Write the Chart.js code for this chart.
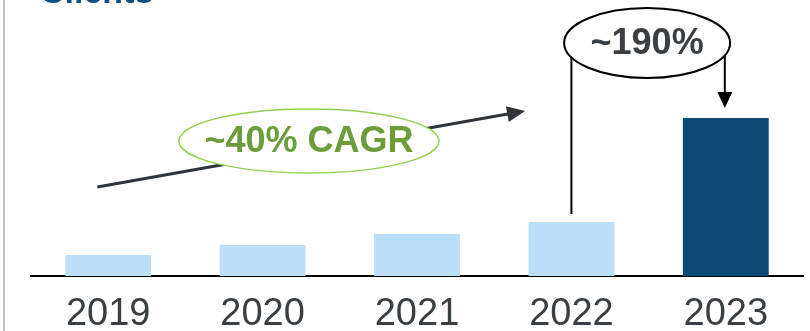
<!DOCTYPE html>
<html>
<head>
<meta charset="utf-8">
<script src="https://cdn.jsdelivr.net/npm/chart.js@4.4.1/dist/chart.umd.min.js"></script>
<style>
  html, body { margin: 0; padding: 0; background: #fff; }
  #wrap { width: 810px; height: 331px; }
</style>
</head>
<body>
<div id="wrap"><canvas id="clientsChart" width="810" height="331"></canvas></div>
<script>
const years = ["2019", "2020", "2021", "2022", "2023"];
const clients = [21, 31, 42, 54, 158];
const barColors = ["#bbdff8", "#bbdff8", "#bbdff8", "#bbdff8", "#0c4a76"];
const titleText = "Clients";
const cagrLabel = "~40% CAGR";
const jumpLabel = "~190%";

const font = "'Liberation Sans', Arial, sans-serif";

function arrowHead(ctx, x1, y1, x2, y2, len, half) {
    const a = Math.atan2(y2 - y1, x2 - x1);
    ctx.beginPath();
    ctx.moveTo(x2, y2);
    ctx.lineTo(x2 - len * Math.cos(a) + half * Math.sin(a), y2 - len * Math.sin(a) - half * Math.cos(a));
    ctx.lineTo(x2 - len * Math.cos(a) - half * Math.sin(a), y2 - len * Math.sin(a) + half * Math.cos(a));
    ctx.closePath();
    ctx.fill();
}

// trend arrow, growth bracket, title and the frame line on the left
const annotations = {
    id: 'annotations',
    afterDraw(chart) {
        const ctx = chart.ctx;
        const x = chart.scales.x;
        const y = chart.scales.y;
        ctx.save();

        ctx.fillStyle = "#c3c3c3";
        ctx.fillRect(3, 0, 2, chart.height);

        ctx.fillStyle = "#0d4f85";
        ctx.font = "bold 34px " + font;
        ctx.textAlign = "left";
        ctx.textBaseline = "alphabetic";
        ctx.fillText(titleText, 40, 3);

        // CAGR trend arrow
        const sx = x.getPixelForValue(-0.07), sy = y.getPixelForValue(89);
        const ex = x.getPixelForValue(2.7), ey = y.getPixelForValue(165);
        ctx.strokeStyle = "#2f353b";
        ctx.fillStyle = "#2f353b";
        ctx.lineWidth = 3;
        ctx.beginPath();
        ctx.moveTo(sx, sy);
        const a = Math.atan2(ey - sy, ex - sx);
        ctx.lineTo(ex - 12 * Math.cos(a), ey - 12 * Math.sin(a));
        ctx.stroke();
        arrowHead(ctx, sx, sy, ex, ey, 18, 8);

        const cx = x.getPixelForValue(1.3), cy = y.getPixelForValue(135);
        ctx.beginPath();
        ctx.ellipse(cx, cy, 130, 32, 0, 0, Math.PI * 2);
        ctx.fillStyle = "#fff";
        ctx.fill();
        ctx.strokeStyle = "#92d050";
        ctx.lineWidth = 1.5;
        ctx.stroke();
        ctx.fillStyle = "#6b9d3a";
        ctx.font = "bold 36px " + font;
        ctx.textAlign = "center";
        ctx.textBaseline = "middle";
        ctx.fillText(cagrLabel, cx, cy + 1);

        // bracket from 2022 to 2023
        const lx = x.getPixelForValue(3);
        const rx = x.getPixelForValue(4) - 1;
        const ly = y.getPixelForValue(clients[3]) - 8;
        const ry = y.getPixelForValue(clients[4]) - 10;
        const ecx = (lx + rx) / 2 - 1, ecy = 43;
        const erx = 83, ery = 35;
        const topL = ecy + ery * Math.sqrt(1 - Math.pow((lx - ecx) / erx, 2));
        const topR = ecy + ery * Math.sqrt(1 - Math.pow((rx - ecx) / erx, 2));
        ctx.strokeStyle = "#000";
        ctx.fillStyle = "#000";
        ctx.lineWidth = 2;
        ctx.beginPath();
        ctx.moveTo(lx, topL);
        ctx.lineTo(lx, ly);
        ctx.moveTo(rx, topR);
        ctx.lineTo(rx, ry - 12);
        ctx.stroke();
        arrowHead(ctx, rx, topR, rx, ry, 16, 7.5);

        ctx.beginPath();
        ctx.ellipse(ecx, ecy, erx, ery, 0, 0, Math.PI * 2);
        ctx.fillStyle = "#fff";
        ctx.fill();
        ctx.stroke();
        ctx.fillStyle = "#3a3f44";
        ctx.font = "bold 36px " + font;
        ctx.fillText(jumpLabel, ecx, ecy + 1);

        ctx.restore();
    }
};

new Chart("clientsChart", {
    type: "bar",
    data: {
        labels: years,
        datasets: [{
            data: clients,
            backgroundColor: barColors,
            borderWidth: 0,
            categoryPercentage: 1,
            barPercentage: 0.556
        }]
    },
    options: {
        responsive: false,
        animation: false,
        layout: { padding: { left: 31, right: 7, top: 0, bottom: 0 } },
        plugins: {
            legend: { display: false },
            tooltip: { enabled: false }
        },
        scales: {
            x: {
                grid: { display: false, drawTicks: false },
                border: { display: true, color: "#000", width: 2 },
                afterFit(scale) { scale.height = 55; },
                ticks: {
                    color: "#3a3f44",
                    padding: 20,
                    font: { family: font, size: 38, lineHeight: 1 }
                }
            },
            y: {
                display: false,
                min: 0,
                max: 276
            }
        }
    },
    plugins: [annotations]
});
</script>
</body>
</html>
